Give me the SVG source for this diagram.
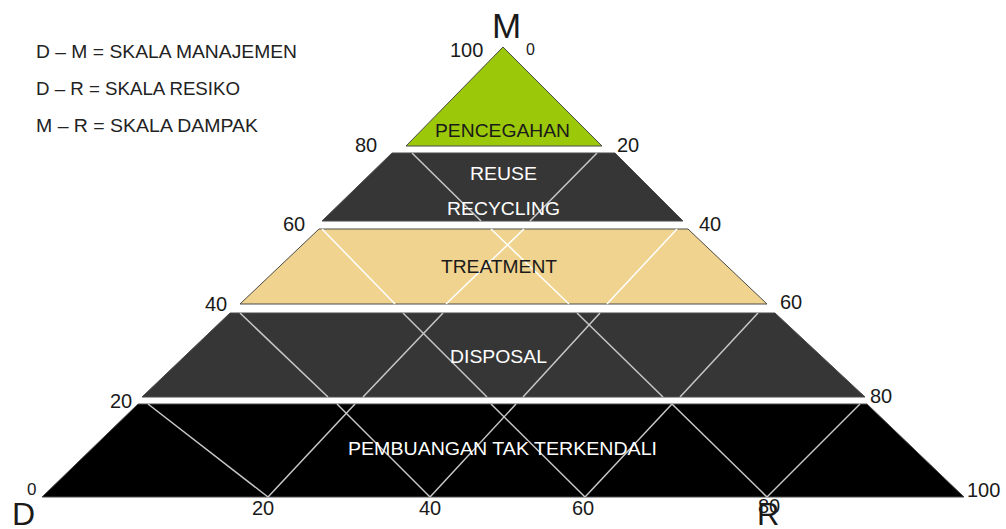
<svg xmlns="http://www.w3.org/2000/svg" width="1006" height="529" viewBox="0 0 1006 529">
  <style>
    .band { stroke: #4a4a4a; stroke-width: 1; stroke-linejoin: miter; }
    .grid { stroke: #c8c8c8; stroke-width: 1.5; fill: none; }
    .gridw { stroke: #ffffff; stroke-width: 1.5; fill: none; }
    .num { font-family: "Liberation Sans", Arial, sans-serif; font-size: 20px; fill: #1a1a1a; }
    .big { font-family: "Liberation Sans", Arial, sans-serif; fill: #1a1a1a; }
    .legend { font-family: "Liberation Sans", Arial, sans-serif; font-size: 19px; fill: #222; }
    .lbl { font-family: "Liberation Sans", Arial, sans-serif; font-size: 19px; }
    .wt { fill: #ffffff; }
    .dk { fill: #1a1a1a; }
  </style>
  <rect x="0" y="0" width="1006" height="529" fill="#ffffff"/>

  <g id="legend">
    <text class="legend" x="36" y="58" textLength="261" lengthAdjust="spacingAndGlyphs">D – M = SKALA MANAJEMEN</text>
    <text class="legend" x="36" y="95" textLength="204" lengthAdjust="spacingAndGlyphs">D – R = SKALA RESIKO</text>
    <text class="legend" x="36" y="132" textLength="222" lengthAdjust="spacingAndGlyphs">M – R = SKALA DAMPAK</text>
  </g>

  <g id="pencegahan">
    <polygon class="band" points="503,47 602,146 406,146" fill="#9cc80a"/>
    <text class="lbl dk" x="435" y="137" textLength="135" lengthAdjust="spacingAndGlyphs">PENCEGAHAN</text>
  </g>

  <g id="reuse-recycling">
    <polygon class="band" points="392,153 615,153 683,221 322,221" fill="#363636"/>
    <line class="grid" x1="412" y1="153" x2="481" y2="221"/>
    <line class="grid" x1="597" y1="153" x2="530" y2="221"/>
    <text class="lbl wt" x="470" y="180" textLength="67" lengthAdjust="spacingAndGlyphs">REUSE</text>
    <text class="lbl wt" x="447" y="215" textLength="113" lengthAdjust="spacingAndGlyphs">RECYCLING</text>
  </g>

  <g id="treatment">
    <polygon class="band" points="319,229 688,229 767,304 240,304" fill="#f0d38f"/>
    <line class="gridw" x1="322" y1="229" x2="395" y2="304"/>
    <line class="gridw" x1="524" y1="229" x2="446" y2="304"/>
    <line class="gridw" x1="491" y1="229" x2="569" y2="304"/>
    <line class="gridw" x1="677" y1="229" x2="607" y2="304"/>
    <text class="lbl dk" x="441" y="273" textLength="116" lengthAdjust="spacingAndGlyphs">TREATMENT</text>
  </g>

  <g id="disposal">
    <polygon class="band" points="230,313 775,313 865,397 142,397" fill="#363636"/>
    <line class="grid" x1="240" y1="313" x2="328" y2="397"/>
    <line class="grid" x1="363" y1="397" x2="443" y2="313"/>
    <line class="grid" x1="403" y1="313" x2="487" y2="397"/>
    <line class="grid" x1="523" y1="397" x2="600" y2="313"/>
    <line class="grid" x1="577" y1="313" x2="663" y2="397"/>
    <line class="grid" x1="680" y1="397" x2="758" y2="313"/>
    <text class="lbl wt" x="450" y="363" textLength="97" lengthAdjust="spacingAndGlyphs">DISPOSAL</text>
  </g>

  <g id="pembuangan">
    <polygon class="band" points="138,404 867,404 964,497 42,497" fill="#000000"/>
    <line class="grid" x1="148" y1="404" x2="268" y2="497"/>
    <line class="grid" x1="268" y1="497" x2="355" y2="404"/>
    <line class="grid" x1="337" y1="404" x2="430" y2="497"/>
    <line class="grid" x1="430" y1="497" x2="516" y2="404"/>
    <line class="grid" x1="491" y1="404" x2="585" y2="497"/>
    <line class="grid" x1="585" y1="497" x2="672" y2="404"/>
    <line class="grid" x1="672" y1="404" x2="767" y2="497"/>
    <line class="grid" x1="767" y1="497" x2="860" y2="404"/>
    <text class="lbl wt" x="348" y="455" textLength="309" lengthAdjust="spacingAndGlyphs">PEMBUANGAN TAK TERKENDALI</text>
  </g>

  <g id="labels">
    <text class="big" x="492" y="38" font-size="35">M</text>
    <text class="num" x="450" y="57">100</text>
    <text class="num" x="526" y="55" style="font-size:16px">0</text>
    <text class="num" x="355" y="152">80</text>
    <text class="num" x="617" y="152">20</text>
    <text class="num" x="283" y="231">60</text>
    <text class="num" x="699" y="231">40</text>
    <text class="num" x="205" y="311">40</text>
    <text class="num" x="780" y="309">60</text>
    <text class="num" x="110" y="408">20</text>
    <text class="num" x="870" y="403">80</text>
    <text class="num" x="27" y="495" style="font-size:17px">0</text>
    <text class="num" x="967" y="497">100</text>
    <text class="num" x="252" y="515">20</text>
    <text class="num" x="419" y="515">40</text>
    <text class="num" x="572" y="515">60</text>
    <text class="num" x="758" y="513">80</text>
    <text class="big" x="12" y="525" font-size="32">D</text>
    <text class="big" x="757" y="525" font-size="31">R</text>
  </g>
</svg>
